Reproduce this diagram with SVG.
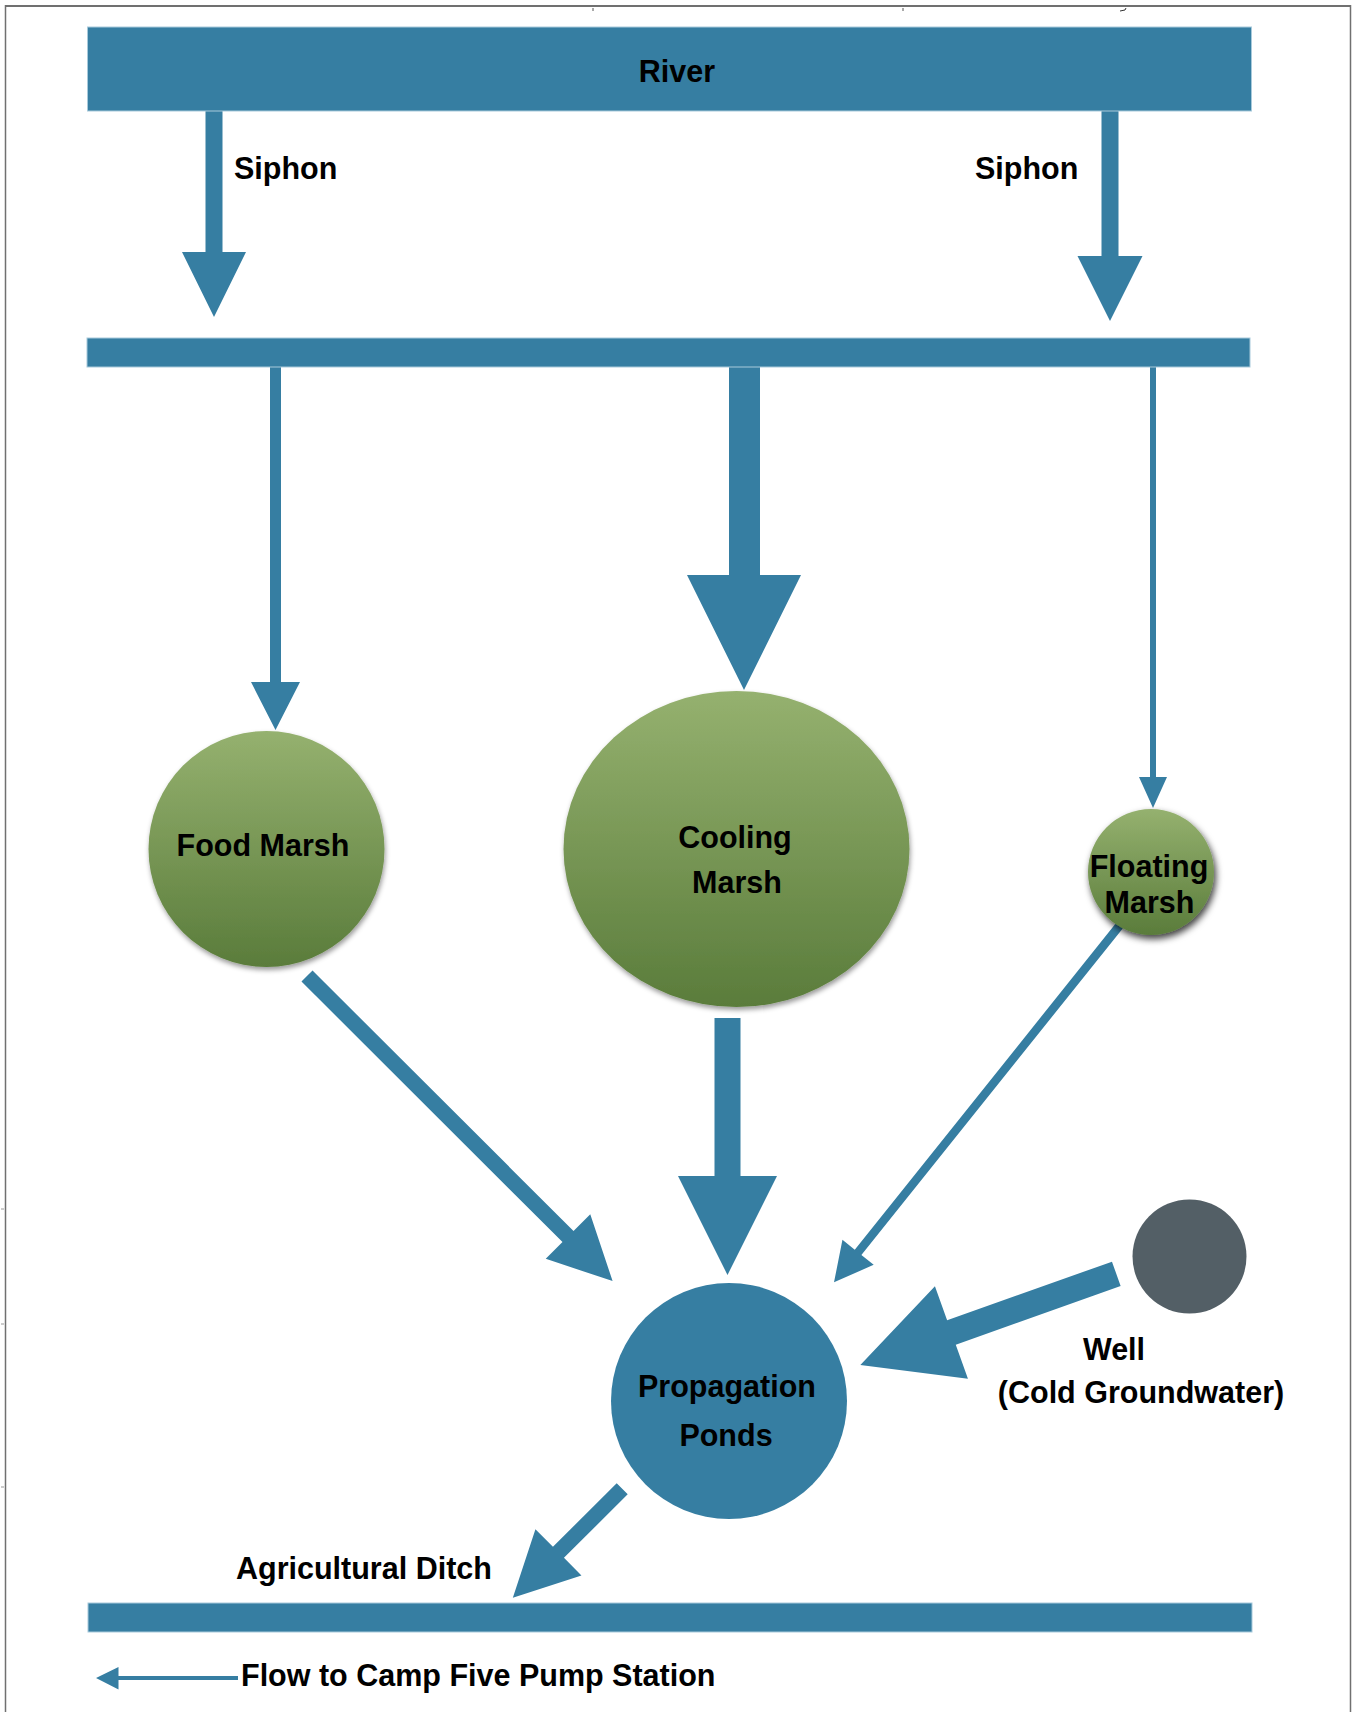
<svg xmlns="http://www.w3.org/2000/svg" width="1355" height="1712" viewBox="0 0 1355 1712">
<style>
.flow{fill:#367ea2}
.bar{fill:#367ea2;stroke:#a8cadb;stroke-width:1}
.lbl{font-family:"Liberation Sans",Arial,Helvetica,sans-serif;font-weight:bold;font-size:30.5px;fill:#000}
.mid{text-anchor:middle}
.frame{stroke:#707070;fill:none}
</style>
<defs>
<linearGradient id="green" x1="0" y1="0" x2="0" y2="1">
<stop offset="0" stop-color="#95b16f"/>
<stop offset="1" stop-color="#5a7c3b"/>
</linearGradient>
<filter id="shadow" x="-20%" y="-20%" width="140%" height="140%">
<feDropShadow dx="1" dy="3" stdDeviation="2.5" flood-color="#000" flood-opacity="0.4"/>
</filter>
<filter id="shadowDark" x="-30%" y="-30%" width="160%" height="160%">
<feDropShadow dx="2" dy="4" stdDeviation="3.5" flood-color="#000" flood-opacity="0.75"/>
</filter>
</defs>
<rect width="1355" height="1712" fill="#fff"/>
<g id="frame">
<line class="frame" x1="5" y1="6" x2="1351" y2="6" stroke-width="2"/>
<line class="frame" x1="5.5" y1="5" x2="5.5" y2="1712" stroke-width="1.5"/>
<line class="frame" x1="1350.5" y1="5" x2="1350.5" y2="1712" stroke-width="1.5"/>
<line x1="593" y1="8" x2="593" y2="11" stroke="#555" stroke-width="1"/>
<line x1="903" y1="8" x2="903" y2="11" stroke="#555" stroke-width="1"/>
<path d="M1120,11 L1125,10 L1126,8" stroke="#333" stroke-width="1" fill="none"/>
<line x1="1" y1="1209" x2="4" y2="1209" stroke="#999" stroke-width="1"/>
<line x1="1" y1="1324" x2="4" y2="1324" stroke="#999" stroke-width="1"/>
<line x1="1" y1="1487" x2="4" y2="1487" stroke="#999" stroke-width="1"/>
</g>
<g id="connectors">
<polygon class="flow" points="205.5,110 222.5,110 222.5,252 246,252 214,317 182,252 205.5,252"/>
<polygon class="flow" points="1101.5,110 1118.5,110 1118.5,256 1142.5,256 1110,321 1077.5,256 1101.5,256"/>
<polygon class="flow" points="270,366 281,366 281,682 300,682 275.5,730 251,682 270,682"/>
<polygon class="flow" points="729,366 760,366 760,575 801,575 744,690 687,575 729,575"/>
<polygon class="flow" points="1150,366 1156,366 1156,777 1167,777 1153,808 1139,777 1150,777"/>
<polygon class="flow" transform="translate(307,976) rotate(44.95)" points="0,-7.8 368.8,-7.8 368.8,-31.5 431.8,0 368.8,31.5 368.8,7.8 0,7.8"/>
<polygon class="flow" points="714.5,1018 740.5,1018 740.5,1176 777,1176 727.5,1275 678,1176 714.5,1176"/>
<polygon class="flow" transform="translate(1120,925) rotate(128.67)" points="0,-4.25 419.2,-4.25 419.2,-20 457.7,0 419.2,20 419.2,4.25 0,4.25"/>
<polygon class="flow" transform="translate(1116.3,1273.8) rotate(160.4)" points="0,-12.9 175,-12.9 175,-49.2 271.7,0 175,49.2 175,12.9 0,12.9"/>
<polygon class="flow" transform="translate(622.2,1488.8) rotate(135.1)" points="0,-7.8 90,-7.8 90,-32.6 154.4,0 90,32.6 90,7.8 0,7.8"/>
<polygon class="flow" points="238,1676 238,1680 118.5,1680 118.5,1689.5 96,1678 118.5,1667 118.5,1676"/>
</g>
<g id="river">
<rect class="bar" x="87.5" y="27" width="1164" height="84"/>
<text class="lbl mid" x="677" y="81.5">River</text>
</g>
<g id="siphon-left-label"><text class="lbl" x="234" y="179">Siphon</text></g>
<g id="siphon-right-label"><text class="lbl" x="975" y="179">Siphon</text></g>
<g id="distribution-channel">
<rect class="bar" x="87" y="338" width="1163" height="29"/>
</g>
<g id="food-marsh">
<circle cx="266.5" cy="849" r="118" fill="url(#green)" filter="url(#shadow)"/>
<text class="lbl mid" x="263" y="856">Food Marsh</text>
</g>
<g id="cooling-marsh">
<ellipse cx="736.5" cy="849" rx="173" ry="158" fill="url(#green)" filter="url(#shadow)"/>
<text class="lbl mid" x="735" y="848">Cooling</text>
<text class="lbl mid" x="737" y="893">Marsh</text>
</g>
<g id="floating-marsh">
<circle cx="1151" cy="872" r="63" fill="url(#green)" filter="url(#shadowDark)"/>
<text class="lbl mid" x="1149" y="877">Floating</text>
<text class="lbl mid" x="1149.5" y="913">Marsh</text>
</g>
<g id="propagation-ponds">
<circle cx="729" cy="1401" r="118" fill="#367ea2"/>
<text class="lbl mid" x="727" y="1397">Propagation</text>
<text class="lbl mid" x="726" y="1446">Ponds</text>
</g>
<g id="well">
<circle cx="1189.5" cy="1256.5" r="57" fill="#535f66"/>
<text class="lbl mid" x="1114" y="1360">Well</text>
<text class="lbl mid" x="1141" y="1403">(Cold Groundwater)</text>
</g>
<g id="agricultural-ditch">
<rect class="bar" x="88" y="1603" width="1164" height="29"/>
<text class="lbl" x="236" y="1579">Agricultural Ditch</text>
</g>
<g id="legend">
<text class="lbl" x="241" y="1686">Flow to Camp Five Pump Station</text>
</g>
</svg>
